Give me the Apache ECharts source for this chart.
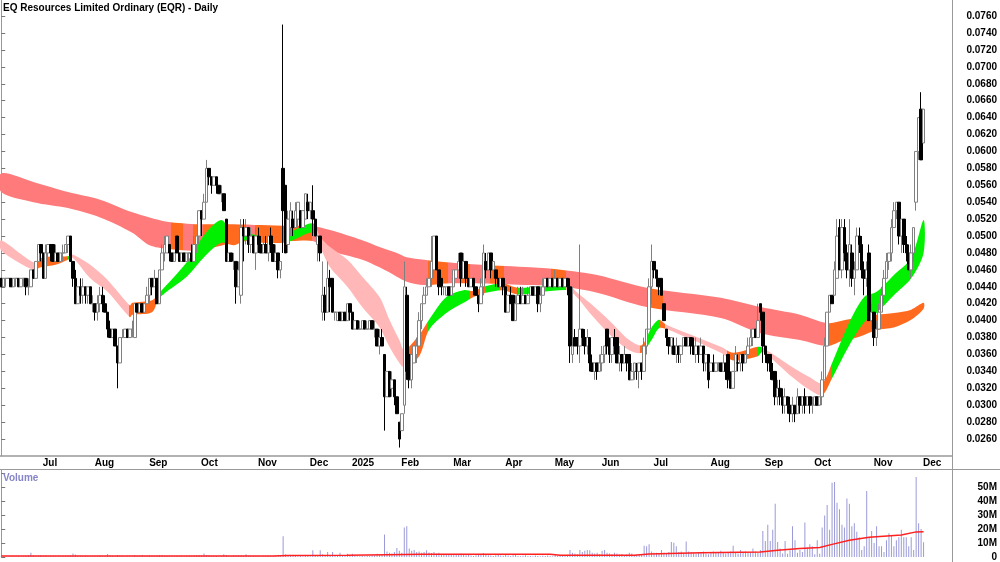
<!DOCTYPE html>
<html>
<head>
<meta charset="utf-8">
<title>EQR Daily</title>
<script src="https://cdn.jsdelivr.net/npm/echarts@6/dist/echarts.min.js"></script>
<style>
  html, body { margin: 0; padding: 0; background: #fff; }
  #chart { width: 1000px; height: 562px; }
</style>
</head>
<body>
<div id="chart"></div>
<script>
// daily candles, prices in thousandths of a dollar: [open, close, low, high]
const ohlc = [
  [45,44,44,45],[44,45,44,45],[45,45,44,45],[45,45,45,45],[45,44,44,45],[44,45,44,45],[45,45,44,45],[45,44,44,45],[44,45,44,45],[45,45,44,45],
  [45,44,43,45],[44,44,43,45],[44,46,44,46],[46,45,45,46],[45,47,45,47],[47,49,47,49],[49,48,47,49],[48,45,45,48],[45,48,45,49],[48,49,47,49],
  [49,48,47,49],[49,47,47,49],[47,48,47,49],[48,47,47,48],[47,48,47,48],[48,48,47,49],[48,49,48,49],[49,50,48,50],[50,47,47,50],[47,45,44,47],
  [45,42,42,46],[42,44,42,44],[44,43,42,45],[43,44,42,45],[44,43,42,44],[43,44,42,44],[44,42,42,44],[42,42,41,43],[42,41,40,42],[41,42,40,43],
  [42,43,41,44],[43,42,41,44],[42,41,41,43],[41,39,38,41],[39,38,38,40],[38,39,38,39],[39,37,37,39],[37,35,32,37],[35,38,35,38],[38,38,38,39],
  [38,39,38,39],[39,38,38,39],[38,39,38,39],[39,39,38,40],[38,42,38,42],[42,41,41,42],[41,42,41,42],[42,41,41,42],[41,42,41,42],[42,43,42,44],
  [43,45,42,45],[45,44,43,45],[44,45,44,46],[45,42,42,45],[42,46,42,46],[46,48,46,49],[48,49,47,50],[48,50,48,50],[49,48,47,49],[48,47,47,48],
  [47,48,47,48],[50,48,48,50],[48,47,47,48],[47,48,47,48],[48,47,47,48],[47,48,47,48],[48,48,47,48],[48,47,47,49],[47,49,47,50],[49,50,48,50],
  [50,53,49,53],[53,52,50,53],[52,54,52,55],[54,58,54,59],[58,57,56,58],[57,56,55,57],[56,57,56,57],[57,56,55,57],[56,55,55,56],[55,55,54,56],
  [55,53,53,55],[52,47,47,52],[47,48,47,48],[48,47,47,48],[47,47,46,48],[47,44,42,47],[44,46,44,47],[43,51,42,52],[51,50,47,52],[50,51,49,52],
  [51,49,48,51],[49,50,48,51],[50,48,48,50],[48,50,46,51],[50,49,48,51],[49,48,48,50],[48,49,48,50],[49,48,48,50],[48,50,47,50],[50,49,48,51],
  [49,47,47,49],[47,48,47,49],[48,46,45,48],[46,47,45,47],[58,53,48,75],[56,48,48,56],[49,52,48,53],[51,53,50,54],[52,51,50,53],[51,53,51,54],
  [52,54,51,54],[53,51,51,53],[51,53,51,53],[52,55,52,55],[54,53,52,55],[53,54,52,54],[53,52,50,56],[52,50,50,52],[49,50,47,50],[50,48,47,50],
  [41,43,40,47],[43,41,40,44],[41,45,41,47],[45,44,41,46],[45,41,41,45],[41,41,40,41],[40,41,40,41],[41,40,40,41],[40,41,40,41],[41,40,40,41],
  [40,42,40,42],[42,41,40,42],[41,39,39,41],[39,40,39,40],[40,39,39,40],[39,39,39,40],[39,40,39,40],[40,39,39,40],[39,39,39,40],[39,40,39,40],
  [40,39,39,40],[39,39,38,40],[39,37,37,39],[37,38,36,39],[38,37,37,39],[36,31,27,36],[31,34,31,34],[34,31,31,34],[32,33,31,34],[33,31,30,33],
  [31,29,29,31],[28,26,25,28],[27,29,27,29],[30,44,29,47],[43,34,33,44],[36,33,32,37],[33,36,32,36],[35,37,35,37],[36,37,35,38],[37,40,37,41],
  [40,42,39,42],[42,43,42,44],[43,44,43,45],[44,45,44,45],[45,47,44,50],[46,50,45,50],[50,46,46,50],[46,44,43,46],[45,44,43,45],[44,44,43,44],
  [43,44,43,44],[44,43,43,44],[43,44,43,44],[44,46,44,46],[45,46,45,46],[46,47,46,48],[48,45,44,48],[45,47,45,48],[47,45,44,47],[45,44,44,45],
  [44,45,44,45],[45,44,43,45],[44,43,43,44],[43,42,41,43],[42,44,42,45],[44,48,43,49],[47,46,45,48],[46,48,46,48],[48,46,45,48],[46,47,45,47],
  [46,45,44,46],[45,44,44,45],[44,45,44,45],[45,44,43,45],[44,41,41,44],[41,43,41,43],[43,42,42,44],[43,40,40,43],[40,42,40,43],[42,43,42,44],
  [43,42,42,44],[42,43,42,44],[43,42,42,43],[42,43,42,44],[43,44,43,44],[44,43,43,44],[43,44,43,44],[44,42,41,44],[42,43,41,44],[43,44,43,45],
  [44,45,44,45],[45,44,44,45],[44,45,44,45],[45,44,44,45],[44,45,44,46],[45,44,44,45],[44,45,44,45],[45,44,44,45],[44,45,44,45],[45,44,43,45],
  [44,37,35,45],[36,37,35,44],[38,37,37,39],[38,37,36,38],[37,39,35,49],[39,38,37,39],[38,37,36,39],[37,38,36,39],[38,35,34,38],[35,34,34,36],
  [34,35,33,35],[35,34,33,35],[34,35,34,36],[35,36,34,37],[36,37,35,37],[39,37,36,39],[37,36,35,38],[36,38,35,38],[38,37,36,39],[38,35,35,38],
  [35,36,34,37],[36,35,34,36],[35,36,35,37],[36,35,34,36],[36,33,33,36],[33,34,33,35],[34,35,33,35],[34,34,33,35],[34,35,32,35],[35,34,33,35],
  [34,37,34,38],[37,39,36,39],[39,44,39,45],[44,47,42,49],[47,46,45,47],[46,45,44,46],[45,44,43,45],[45,43,43,45],[42,40,40,42],[39,38,37,39],
  [38,37,36,38],[37,38,36,38],[37,36,36,38],[36,37,35,38],[37,36,35,37],[36,37,35,37],[37,38,37,38],[38,37,37,38],[37,38,37,38],[38,37,36,38],
  [37,36,36,38],[36,37,35,38],[37,36,35,37],[36,37,36,38],[37,35,34,37],[35,36,34,36],[36,33,32,36],[34,35,34,35],[35,34,34,36],[34,35,34,35],
  [35,35,34,35],[35,34,34,35],[34,35,34,36],[35,34,33,35],[36,33,32,36],[33,32,32,34],[32,34,32,34],[34,36,34,37],[35,35,34,36],[35,36,34,36],
  [36,35,34,36],[35,36,35,36],[36,37,36,38],[37,38,37,39],[38,39,37,39],[39,38,38,39],[38,40,38,42],[42,41,40,42],[41,37,35,41],[37,36,35,37],
  [36,35,34,36],[36,34,33,36],[34,33,33,35],[34,31,30,34],[31,32,30,33],[32,31,30,33],[31,30,29,32],[30,31,29,32],[31,30,29,31],[30,29,28,31],
  [29,30,28,31],[30,29,28,30],[29,31,29,32],[31,30,29,31],[30,31,29,31],[31,30,29,32],[30,31,30,31],[31,30,29,31],[30,30,29,31],[30,31,30,31],
  [31,30,30,31],[30,31,30,31],[31,33,30,34],[33,37,33,38],[37,41,37,41],[41,43,41,43],[43,42,42,43],[43,46,43,47],[45,50,45,52],[51,46,46,52],
  [46,51,45,52],[51,48,47,52],[48,46,45,49],[46,49,44,52],[48,45,44,49],[45,46,43,47],[46,50,46,51],[50,49,48,51],[49,46,45,50],[46,45,43,47],
  [45,46,44,47],[48,40,40,49],[40,41,39,42],[41,38,37,41],[38,39,37,40],[39,41,39,42],[41,43,41,44],[43,45,42,46],[45,47,45,48],[47,48,46,48],
  [48,51,47,52],[51,53,51,54],[53,54,52,54],[54,50,49,54],[50,52,48,52],[52,49,48,52],[49,48,47,50],[48,46,46,49],[46,48,45,49],[48,51,47,51],
  [54,60,53,60],[60,64,59,64],[65,59,59,67],[61,65,61,65]
];

// daily volume, millions
const volume = [
  0.4,0.3,0.5,0.3,0.6,0.4,0.3,0.5,0.4,0.6,0.8,1.2,3.0,
  1.0,0.6,0.8,1.2,0.7,0.9,0.5,0.6,0.8,0.4,0.5,0.6,0.7,0.5,0.9,1.0,2.5,
  1.8,1.0,0.8,0.6,0.7,0.5,0.6,0.8,0.5,0.7,1.0,0.6,0.8,2.2,
  1.2,0.8,0.6,1.5,1.0,0.5,0.4,0.6,0.5,0.4,1.2,0.8,0.6,1.5,
  0.6,0.8,1.0,0.7,0.5,0.9,1.1,1.3,0.8,0.7,0.5,0.6,0.4,0.8,0.5,0.6,0.4,0.5,0.7,0.5,0.9,1.0,1.2,0.9,2.5,
  1.5,1.2,0.8,0.6,0.7,0.5,0.8,2.0,1.5,0.8,0.6,1.2,0.9,1.0,1.1,0.8,2.0,
  0.8,0.6,0.7,0.5,0.6,0.4,0.5,0.6,0.8,0.5,0.6,0.7,0.9,0.6,14.8,
  2.0,1.2,0.8,1.0,0.7,0.6,0.8,0.5,1.0,0.7,0.6,4.8,1.5,1.0,4.8,2.0,1.2,3.6,1.5,3.6,1.2,0.8,3.0,1.0,0.8,2.4,1.0,2.4,
  0.8,0.6,0.5,0.7,0.6,0.9,0.8,1.0,1.2,2.4,1.5,2.0,16,4.0,3.0,2.5,3.5,6.4,4.5,3.0,21,22,6,4.5,5,
  3.5,4.0,3.0,3.5,4.8,3.2,2.8,3.6,
  2.5,3.0,2.0,1.5,1.8,2.2,1.5,1.2,2.0,1.8,2.5,1.5,1.2,1.8,1.0,0.8,1.2,1.5,2.0,2.8,1.5,1.2,1.0,0.8,1.2,1.5,1.0,0.9,
  1.5,1.0,0.8,1.2,1.5,0.8,0.6,0.9,1.2,0.7,0.8,0.6,1.0,0.8,0.5,0.9,0.7,1.0,0.8,0.6,
  1.2,0.8,1.0,0.7,0.9,1.5,5.0,3.0,2.5,2.0,5.0,3.5,4.5,5.0,4.8,3.0,2.5,3.0,2.0,
  4.5,5.0,3.0,2.5,2.0,3.0,2.5,1.8,2.2,1.5,2.0,3.0,2.5,1.5,1.8,2.0,1.5,8.0,7.6,9.0,4.0,3.0,
  3.0,2.5,5.0,3.0,2.5,3.5,10.7,10.2,7.6,3.5,4.0,3.0,11.0,4.0,3.5,3.0,2.5,3.5,3.0,4.0,2.5,2.0,3.0,
  4.0,3.5,3.0,4.5,3.0,2.5,3.5,4.0,8.0,3.0,2.5,5.0,3.5,4.0,3.0,3.5,6.0,4.0,3.0,5.0,
  18.6,11.4,23,11.4,19.5,38,10.7,6,2.5,11.4,2.4,4.8,22,12,3,5,3.5,24.5,6.7,9,7.6,2,12,2.4,
  21,29.5,37,19.5,53,53.5,38.6,34,23,21,41.7,38,22,24,18,14,5,7.6,47,14,18.6,10,22,7.6,7.6,3.6,
  12,17,15.5,7.6,12,14,19.5,14,14,7.6,14,5,57,24,20,10.5
];

// volume average line: [bar, millions]
const volumeAvg = [
  [0,0.7],[110,0.8],[116,1.0],[140,1.2],[156,1.6],[170,2.0],[202,2.0],[222,2.0],[226,1.2],[256,1.2],
  [262,2.2],[283,3.0],[307,3.6],[314,4.8],[323,6.0],[331,6.7],[336,9.0],[343,12.0],[351,14.0],[364,15.7],
  [370,17.9],[373,18.0]
];

// moving-average ribbons: [bar, low edge, high edge] in thousandths
const longBand = [
  [0,55.2,57.4],[13,54.0,56.4],[27,53.3,55.2],[40,52.2,54.3],[53,50.4,52.8],[60,48.9,52.2],[67,48.5,51.7],
  [80,48.3,51.4],[94,49.2,51.4],[105,49.5,51.3],[117,49.4,51.2],[126,49.4,51.2],[133,48.3,50.7],[146,47.2,49.5],
  [153,46.3,48.7],[160,45.2,48.0],[164,44.6,47.5],[171,44.2,47.2],[180,44.4,46.9],[194,44.4,46.6],[214,44.2,46.3],
  [227,44.0,46.0],[241,43.3,45.4],[261,41.6,43.9],[291,40.3,42.7],[307,38.5,41.6],[323,37.7,40.7],[334,37.0,39.7],
  [340,37.6,40.0],[347,38.1,40.4],[354,38.9,40.7],[361,39.2,40.9],[368,40.1,41.3],[373,41.4,42.1]
];
const shortBand = [
  [0,48.3,49.5],[13,46.0,46.9],[16,46.3,47.4],[22,46.6,47.6],[27,47.2,47.6],[29,47.4,47.8],[36,45.0,46.6],
  [43,43.4,44.8],[52,40.4,41.8],[53,40.7,42.1],[61,41.0,42.4],[64,42.7,43.3],[75,45.2,46.9],[82,47.5,50.1],
  [89,49.2,51.9],[94,48.9,50.1],[99,49.5,50.4],[105,49.2,50.0],[116,49.3,50.4],[126,50.4,51.5],[129,48.7,49.9],
  [133,46.3,48.7],[140,44.0,47.2],[146,41.6,45.2],[153,39.2,42.8],[157,36.9,40.1],[161,35.0,37.7],[163,34.5,36.5],
  [169,35.8,38.3],[173,38.9,40.1],[180,40.9,42.8],[187,42.1,43.6],[191,42.8,43.5],[196,43.3,44.1],[203,43.6,44.4],
  [209,43.1,43.9],[229,43.6,44.2],[233,42.7,43.3],[238,40.9,42.1],[247,38.1,39.7],[254,36.5,37.7],[259,36.2,37.1],
  [263,37.7,39.2],[266,39.1,40.1],[269,39.0,39.5],[291,36.2,36.9],[296,35.3,36.2],[306,35.8,36.9],[308,36.3,36.8],
  [320,33.3,34.5],[327,31.8,33.3],[332,31.2,32.6],[336,33.2,35.0],[343,37.1,39.8],[349,39.8,42.8],[354,40.9,43.4],
  [361,43.0,45.4],[368,45.0,47.4],[373,48.0,51.9]
];

// ribbon states by bar range [from, to)
const longOrange = [[69,74],[78,80],[82,99],[103,126],[173,181],[186,190],[198,204],[223,229],[262,268],[334,400]];
const shortGreen = [[27,29],[63,92],[98,104],[115,128],[173,190],[196,202],[209,229],[262,267],[306,308],[336,400]];
const shortOrange = [[14,27],[52,63],[92,98],[104,115],[163,173],[190,196],[202,209],[259,262],[267,269],[294,306],[332,336]];

// month labels: bar index where each month starts
const monthIdx = [16, 37, 59, 80, 103, 124, 141, 161, 182, 203, 223, 242, 263, 286, 308, 328, 352, 372];
const monthNames = ['Jul','Aug','Sep','Oct','Nov','Dec','2025','Feb','Mar','Apr','May','Jun','Jul','Aug','Sep','Oct','Nov','Dec'];

const slots = 385;
const font = 'Liberation Sans, Arial, sans-serif';
const red = '#ff7a7a', pink = '#ffb7b7', green = '#00f000', orange = '#ff6a1f';

const cats = [];
for (let i = 0; i < slots; i++) cats.push(String(i));
const monthAt = {};
monthIdx.forEach((k, j) => { monthAt[k] = monthNames[j]; });

// colour lookup for a bar index given [from,to) ranges
function colorFor(groups, base) {
  return function (i) {
    for (const g of groups) {
      for (const r of g.ranges) if (i >= r[0] && i < r[1]) return g.color;
    }
    return base;
  };
}
const longColor = colorFor([{ ranges: longOrange, color: orange }], red);
const shortColor = colorFor([{ ranges: shortGreen, color: green }, { ranges: shortOrange, color: orange }], pink);
const longEdges = [].concat(...longOrange);
const shortEdges = [].concat(...shortGreen, ...shortOrange);

// ribbon drawn as one smoothed polygon, coloured by a hard-stop horizontal gradient
function ribbon(band, colorAt, edges) {
  return {
    type: 'custom', xAxisIndex: 1, yAxisIndex: 0, silent: true, z: 1, clip: true,
    data: band,
    encode: { x: 0, y: [1, 2] },
    renderItem: function (params, api) {
      if (params.dataIndex !== 0) return null;
      const top = band.map(d => api.coord([d[0], d[2]]));
      const bot = band.map(d => api.coord([d[0], d[1]])).reverse();
      const first = band[0][0], last = band[band.length - 1][0];
      const x0 = top[0][0], x1 = top[top.length - 1][0];
      const off = (i) => (api.coord([i - 0.5, 0])[0] - x0) / (x1 - x0);
      const stops = [{ offset: 0, color: colorAt(first) }];
      Array.from(new Set(edges)).sort((a, b) => a - b).forEach(b => {
        if (b <= first || b > last) return;
        const o = off(b);
        stops.push({ offset: o, color: colorAt(b - 1) }, { offset: o, color: colorAt(b) });
      });
      stops.push({ offset: 1, color: colorAt(last) });
      return {
        type: 'polygon',
        shape: { points: top.concat(bot), smooth: 0.3 },
        style: { fill: new echarts.graphic.LinearGradient(x0, 0, x1, 0, stops, true) }
      };
    }
  };
}

const labelStyle = { fontFamily: font, fontSize: 10, fontWeight: 'bold', color: '#000' };

const chart = echarts.init(document.getElementById('chart'));

const option = {
  animation: false,
  backgroundColor: '#fff',
  grid: [
    { left: 0, right: 48, top: 0, bottom: 106 },
    { left: 0, right: 48, top: 470, bottom: 5 }
  ],
  xAxis: [
    {
      type: 'category', gridIndex: 0, data: cats, boundaryGap: true,
      axisLine: { lineStyle: { color: '#999', width: 1.5 } },
      axisTick: { alignWithLabel: true, length: 3, interval: (i) => i in monthAt, lineStyle: { color: '#777' } },
      axisLabel: Object.assign({
        interval: (i) => i in monthAt,
        formatter: (v) => monthAt[v] || '',
        align: 'left', margin: 2, padding: [0, 0, 0, 2]
      }, labelStyle),
      splitLine: { show: false }
    },
    { type: 'value', gridIndex: 0, min: -0.5, max: slots - 0.5, show: false },
    { type: 'category', gridIndex: 1, data: cats, boundaryGap: true, show: false },
    { type: 'value', gridIndex: 1, min: -0.5, max: slots - 0.5, show: false }
  ],
  yAxis: [
    {
      type: 'value', gridIndex: 0, position: 'right', min: 24, max: 77.9, interval: 2,
      axisLine: { show: true, lineStyle: { color: '#999' } },
      axisTick: { show: true, length: 4, lineStyle: { color: '#777' } },
      axisLabel: Object.assign({
        showMinLabel: false, showMaxLabel: false, align: 'right', margin: 45,
        formatter: (v) => (v / 1000).toFixed(4)
      }, labelStyle),
      splitLine: { show: false }
    },
    {
      type: 'value', gridIndex: 1, position: 'right', min: 0, max: 62, interval: 10,
      axisLine: { show: true, lineStyle: { color: '#999' } },
      axisTick: { show: true, length: 4, lineStyle: { color: '#777' } },
      axisLabel: Object.assign({
        showMaxLabel: false, align: 'right', margin: 45,
        formatter: (v) => (v >= 60 ? '' : v === 0 ? '0' : v + 'M')
      }, labelStyle),
      splitLine: { show: false }
    }
  ],
  series: [
    ribbon(longBand, longColor, longEdges),
    ribbon(shortBand, shortColor, shortEdges),
    {
      type: 'candlestick', xAxisIndex: 0, yAxisIndex: 0, z: 5,
      data: ohlc, barWidth: 3,
      itemStyle: { color: '#ffffff', color0: '#000000', borderColor: '#808080', borderColor0: '#000000', borderWidth: 1 }
    },
    {
      type: 'bar', xAxisIndex: 2, yAxisIndex: 1, data: volume, barWidth: 1,
      itemStyle: { color: '#9a9ad8' }, silent: true
    },
    {
      type: 'line', xAxisIndex: 3, yAxisIndex: 1, data: volumeAvg, symbol: 'none',
      lineStyle: { color: '#ff2020', width: 1.5 }, z: 4, silent: true
    }
  ],
  graphic: [
    {
      type: 'text', left: 3, top: 3, z: 100,
      style: { text: 'EQ Resources Limited Ordinary (EQR) - Daily', font: 'bold 10px ' + font, fill: '#000' }
    },
    {
      type: 'text', left: 3, top: 473, z: 100,
      style: { text: 'Volume', font: 'bold 10px ' + font, fill: '#8585c8' }
    },
    { type: 'line', z: 100, shape: { x1: 0, y1: 469.5, x2: 1000, y2: 469.5 }, style: { stroke: '#999', lineWidth: 1 } },
    { type: 'line', z: 100, shape: { x1: 952.5, y1: 0, x2: 952.5, y2: 562 }, style: { stroke: '#999', lineWidth: 1 } }
  ]
};

chart.setOption(option);
</script>
</body>
</html>
